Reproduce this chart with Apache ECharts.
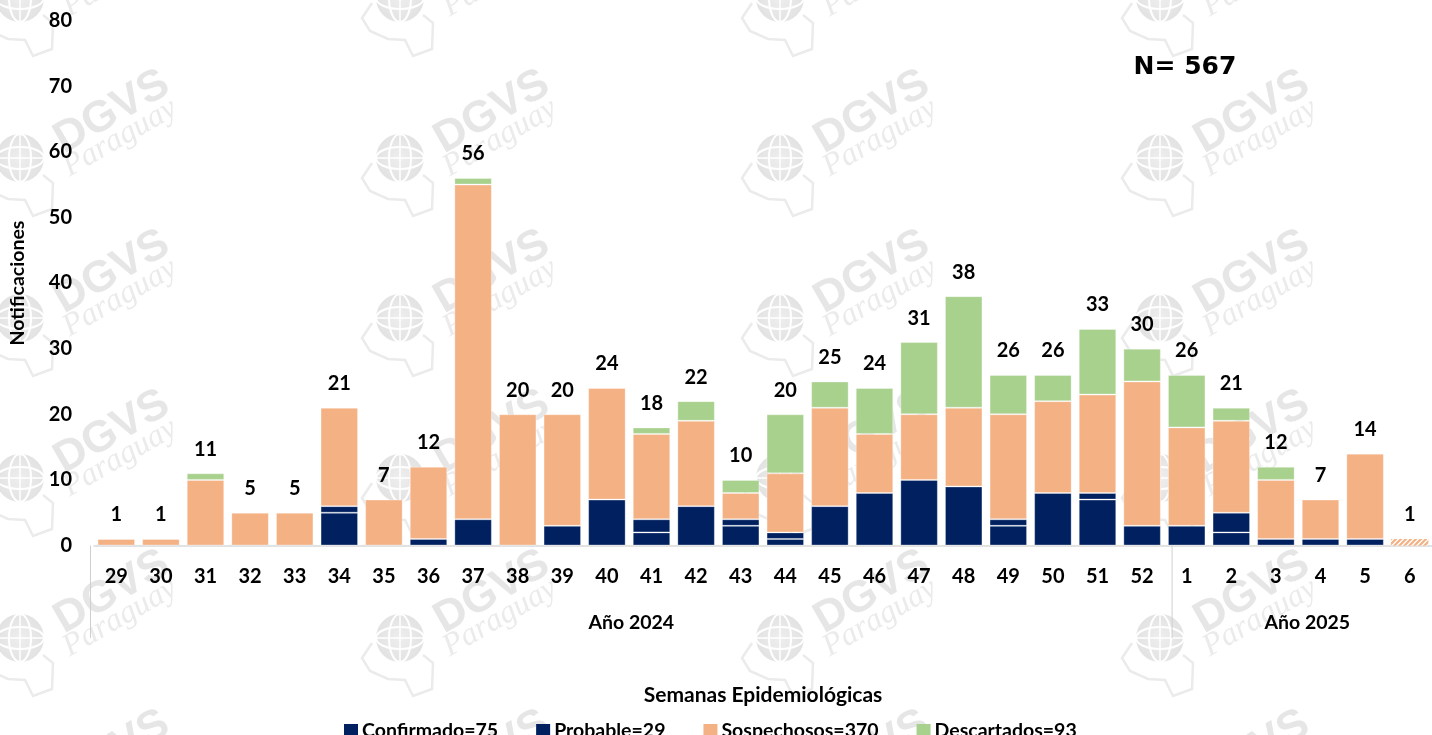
<!DOCTYPE html>
<html>
<head>
<meta charset="utf-8">
<style>html,body{margin:0;padding:0;background:#fff;overflow:hidden}#c{width:1432px;height:735px}</style>
<script src="https://cdn.jsdelivr.net/npm/echarts@6/dist/echarts.min.js"></script>
</head>
<body>
<div id="c"></div>
<script>
const weeks = ['29','30','31','32','33','34','35','36','37','38','39','40','41','42','43','44','45','46','47','48','49','50','51','52','1','2','3','4','5','6'];
const confirmado = [0,0,0,0,0,5,0,0,4,0,3,7,2,6,3,1,6,0,10,9,3,0,7,0,3,2,1,1,1,0];
const probable   = [0,0,0,0,0,1,0,1,0,0,0,0,2,0,1,1,0,8,0,0,1,8,1,3,0,3,0,0,0,0];
const sospechosos= [1,1,10,5,5,15,7,11,51,20,17,17,13,13,4,9,15,9,10,12,16,14,15,22,15,14,9,6,13,1];
const descartados= [0,0,1,0,0,0,0,0,1,0,0,0,1,3,2,9,4,7,11,17,6,4,10,5,8,2,2,0,0,0];
const totals     = [1,1,11,5,5,21,7,12,56,20,20,24,18,22,10,20,25,24,31,38,26,26,33,30,26,21,12,7,14,1];
const yearLabels = ['Año 2024','Año 2025'];
const yearWeekCounts = [24,6];
const seriesNames = ['Confirmado=75','Probable=29','Sospechosos=370','Descartados=93'];
const hatchedWeeks = ['6'];

const FONT = 'Lato';
const NAVY = '#002060', ORANGE = '#F4B183', GREEN = '#A9D18E';
const G = {left:90.5, right:-10.5, top:20.5, height:525};
const STEP = (1432 - G.left - G.right) / weeks.length;
const BASE = G.top + G.height;

function hatch(){
  const c = document.createElement('canvas'); c.width = 5; c.height = 5;
  const x = c.getContext('2d');
  x.fillStyle = '#fff'; x.fillRect(0,0,5,5);
  x.strokeStyle = ORANGE; x.lineWidth = 2.2;
  x.beginPath();
  x.moveTo(-1,1); x.lineTo(1,-1);
  x.moveTo(-1,6); x.lineTo(6,-1);
  x.moveTo(4,6); x.lineTo(6,4);
  x.stroke();
  return {image:c, repeat:'repeat'};
}
const border = {borderColor:'rgba(255,255,255,0.32)', borderWidth:1};
function stackSeries(name, values, color){
  return {
    name, type:'bar', stack:'n', barWidth:37.5, barGap:'-100%',
    itemStyle:Object.assign({color}, border),
    data:values.map((v,i)=>{
      if(!v) return null;
      if(color===ORANGE && hatchedWeeks.includes(weeks[i])) return {value:v,itemStyle:{color:hatch(),borderWidth:0}};
      return v;
    })
  };
}

function watermark(){
  const out = [], w = '#ffffff';
  [20,400,780,1160].forEach(gx=>{
    [-2,158,318,478,638,798].forEach(gy=>{
      out.push({type:'group', x:gx, y:gy, silent:true, z:-10, children:[
        {type:'polyline', z:-10, shape:{points:[[-28,5],[-38,20],[-30,33],[-12,41],[5,42],[13,58],[32,51],[33,25],[23,17]]},
          style:{stroke:'#ebebeb', lineWidth:2.5, fill:null}},
        {type:'circle', z:-10, shape:{cx:0,cy:0,r:24},
          style:{fill:{type:'radial',x:0.5,y:0.5,r:0.6,colorStops:[{offset:0,color:'#eeeeee'},{offset:1,color:'#e0e0e0'}]}}},
        {type:'ellipse', z:-9, shape:{cx:0,cy:0,rx:11,ry:24}, style:{stroke:w,lineWidth:2,fill:null}},
        {type:'ellipse', z:-9, shape:{cx:0,cy:0,rx:24,ry:11}, style:{stroke:w,lineWidth:2,fill:null}},
        {type:'line', z:-9, shape:{x1:0,y1:-24,x2:0,y2:24}, style:{stroke:w,lineWidth:1.5}},
        {type:'line', z:-9, shape:{x1:-24,y1:0,x2:24,y2:0}, style:{stroke:w,lineWidth:1.5}},
        {type:'text', z:-10, x:92, y:-46, rotation:Math.PI/6,
          style:{text:'DGVS', font:'bold 44px "Liberation Sans"', fill:'#e6e6e6', align:'center', verticalAlign:'middle'}},
        {type:'text', z:-10, x:100, y:-20, rotation:Math.PI/6,
          style:{text:'Paraguay', font:'italic 32px "Liberation Serif"', fill:'#ebebeb', align:'center', verticalAlign:'middle'}}
      ]});
    });
  });
  return out;
}

function yearDecor(){
  const out = [];
  let start = 0;
  out.push({type:'line', z:1, shape:{x1:G.left,y1:BASE,x2:G.left,y2:638}, style:{stroke:'#cfcfcf',lineWidth:1}, silent:true});
  yearLabels.forEach((label,i)=>{
    const end = start + yearWeekCounts[i];
    out.push({type:'text', z:3, x:G.left+(start+end)/2*STEP, y:623, silent:true,
      style:{text:label, font:'bold 19.5px '+FONT, fill:'#000', align:'center', verticalAlign:'middle'}});
    if(i<yearLabels.length-1)
      out.push({type:'line', z:1, shape:{x1:G.left+end*STEP,y1:BASE,x2:G.left+end*STEP,y2:638}, style:{stroke:'#cfcfcf',lineWidth:1}, silent:true});
    start = end;
  });
  return out;
}

const chart = echarts.init(document.getElementById('c'), null, {renderer:'canvas'});
chart.setOption({
  animation:false,
  backgroundColor:'#fff',
  textStyle:{fontFamily:FONT},
  grid:{left:G.left, right:G.right, top:G.top, height:G.height, containLabel:false},
  legend:{
    data:seriesNames, left:339, top:716, itemWidth:14, itemHeight:14, itemGap:38, icon:'rect',
    itemStyle:{borderWidth:0},
    textStyle:{fontFamily:FONT, fontWeight:'bold', fontSize:19.5, color:'#000', padding:[0,0,0,-1]},
    selectedMode:false
  },
  xAxis:{
    type:'category', data:weeks,
    name:'Semanas Epidemiológicas', nameLocation:'middle', nameGap:139,
    nameTextStyle:{fontFamily:FONT, fontWeight:'bold', fontSize:21, color:'#000'},
    axisTick:{show:false},
    axisLine:{show:true, lineStyle:{color:'#d9d9d9', width:1.5}},
    axisLabel:{interval:0, fontFamily:FONT, fontWeight:'bold', fontSize:20, color:'#000', margin:21}
  },
  yAxis:{
    type:'value', min:0, max:80, interval:10,
    name:'Notificaciones', nameLocation:'middle', nameGap:66, nameRotate:90,
    nameTextStyle:{fontFamily:FONT, fontWeight:'bold', fontSize:19.5, color:'#000'},
    splitLine:{show:false}, axisLine:{show:false}, axisTick:{show:false},
    axisLabel:{fontFamily:FONT, fontWeight:'bold', fontSize:20, color:'#000', margin:22}
  },
  series:[
    stackSeries(seriesNames[0], confirmado, NAVY),
    stackSeries(seriesNames[1], probable, NAVY),
    stackSeries(seriesNames[2], sospechosos, ORANGE),
    stackSeries(seriesNames[3], descartados, GREEN),
    {name:'Total', type:'bar', barWidth:37.5, barGap:'-100%', z:5, silent:true,
     itemStyle:{color:'rgba(0,0,0,0)'},
     label:{show:true, position:'top', distance:14, fontFamily:FONT, fontWeight:'bold', fontSize:20, color:'#000'},
     data:totals}
  ],
  graphic:{elements:[
    ...watermark(),
    ...yearDecor(),
    {type:'text', z:3, x:1185, y:67, silent:true,
     style:{text:'N= 567', font:'bold 25px "DejaVu Sans"', fill:'#000', align:'center', verticalAlign:'middle'}}
  ]}
});
</script>
</body>
</html>
